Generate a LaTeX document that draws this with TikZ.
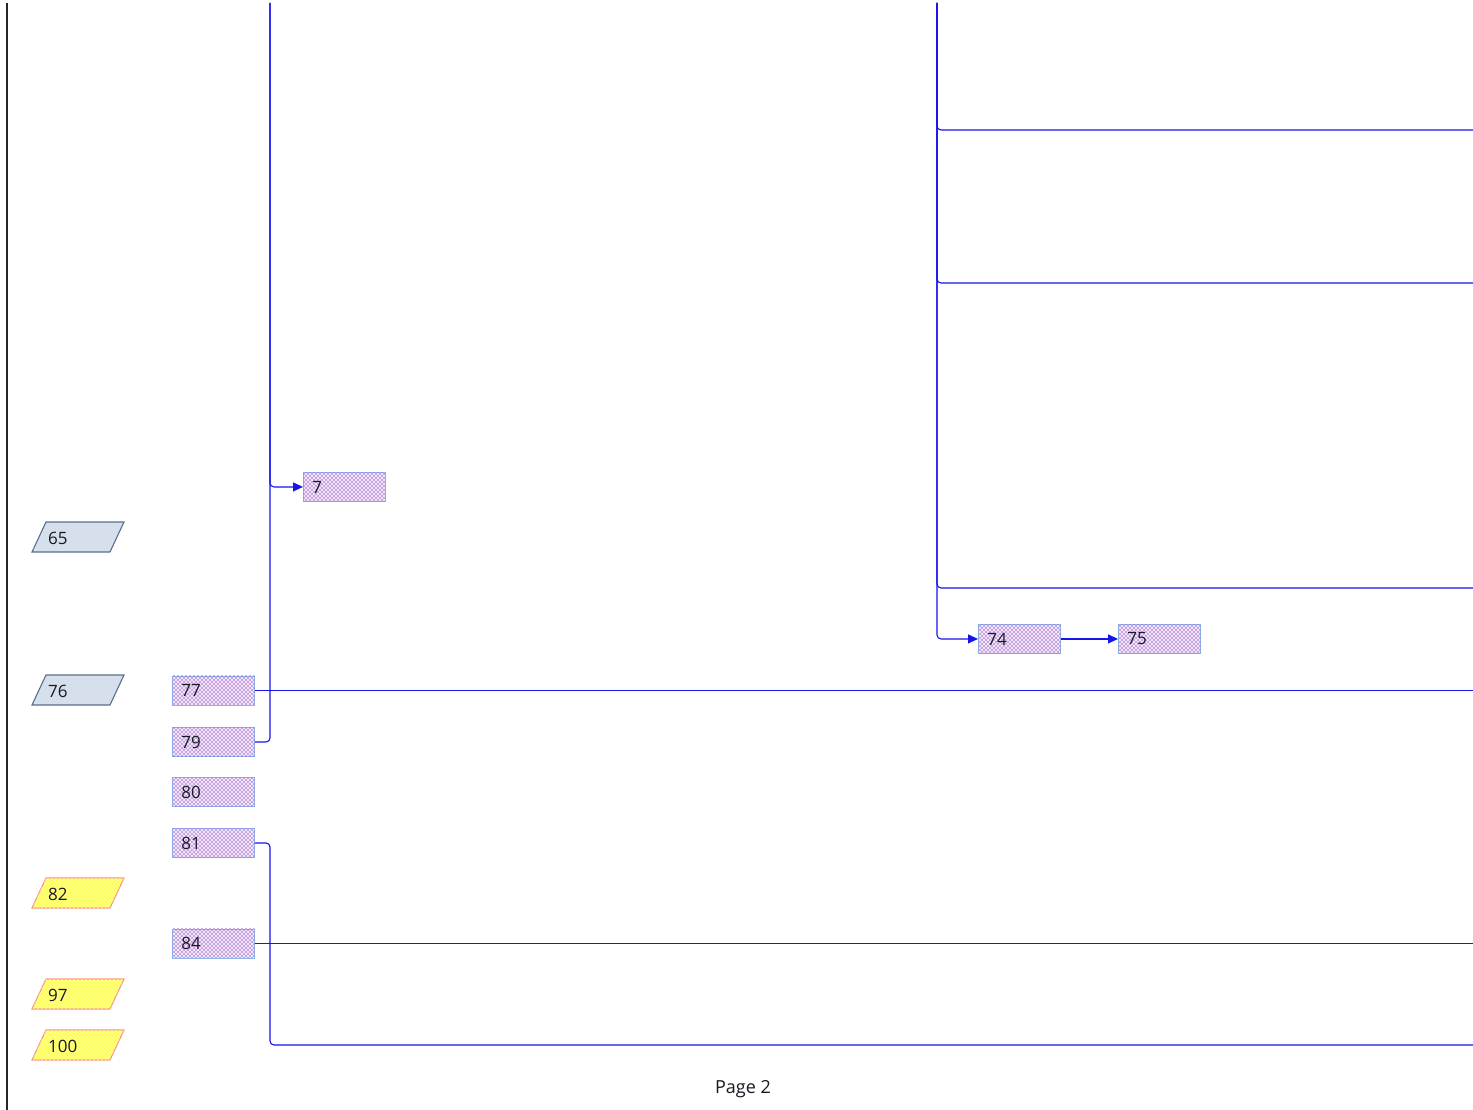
\documentclass[tikz,border=0pt]{standalone}
\usepackage{fontspec}
\setmainfont{Open Sans}
\usetikzlibrary{patterns,arrows.meta}
\definecolor{conn}{RGB}{20,20,235}
\definecolor{boxborder}{RGB}{140,180,235}
\definecolor{boxfill}{RGB}{240,230,248}
\definecolor{dotcol}{RGB}{160,100,205}
\definecolor{grayfill}{RGB}{214,223,236}
\definecolor{grayborder}{RGB}{90,110,140}
\definecolor{yelfill}{RGB}{255,255,90}
\definecolor{yelborder}{RGB}{245,150,140}
\definecolor{txt}{RGB}{25,25,35}
\pgfdeclarepatternformonly{mydots}{\pgfqpoint{-1pt}{-1pt}}{\pgfqpoint{5pt}{5pt}}{\pgfqpoint{4pt}{4pt}}{%
  \pgfpathcircle{\pgfqpoint{0pt}{0pt}}{0.95pt}
  \pgfpathcircle{\pgfqpoint{2pt}{2pt}}{0.95pt}
  \pgfusepath{fill}}
\tikzset{
  procbox/.style={rectangle, draw=boxborder, line width=0.9pt,
    fill=boxfill, postaction={pattern=mydots, pattern color=dotcol},
    minimum width=82pt, minimum height=29pt, text width=64pt, inner xsep=9pt,
    align=left, anchor=north west, font=\fontsize{17}{19}\selectfont, text=txt},
  conline/.style={draw=conn, line width=1.1pt, rounded corners=4pt},
  arr/.style={-{Triangle[length=10pt,width=9pt]}},
  paragray/.style={draw=grayborder, fill=grayfill, line width=1.1pt},
  parayel/.style={draw=yelborder, fill=yelfill, line width=1.1pt,
    postaction={pattern=mydots, pattern color=yellow!30!white}},
  paratext/.style={anchor=west, font=\fontsize{17}{19}\selectfont, text=txt, inner sep=0pt}
}
\newcommand\mypara[4]{% style, top y, name, label
  \path[#1] (46,#2) -- (124,#2) -- (110,#2+30) -- (32,#2+30) -- cycle;
  \node[paratext] (#3) at (48,#2+16) {#4};
}
\begin{document}
\begin{tikzpicture}[x=1pt,y=-1pt]
\useasboundingbox (0,0) rectangle (1473,1110);
% left border line
\draw[line width=1.2pt, black!85] (7,3) -- (7,1110);

% parallelograms
\mypara{paragray}{522}{p65}{65}
\mypara{paragray}{675}{p76}{76}
\mypara{parayel}{878}{p82}{82}
\mypara{parayel}{979}{p97}{97}
\mypara{parayel}{1030}{p100}{100}

% boxes
\node[procbox] (n7) at (303,472) {7};
\node[procbox] (n77) at (172,675.5) {77};
\node[procbox] (n79) at (172,727) {79};
\node[procbox] (n80) at (172,777) {80};
\node[procbox] (n81) at (172,828) {81};
\node[procbox] (n84) at (172,928.5) {84};
\node[procbox] (n74) at (978,624) {74};
\node[procbox] (n75) at (1118,624) {75};

% coordinates
\coordinate (tL) at (270,3);
\coordinate (tR) at (937,3);
\coordinate (e130) at (1473,130);
\coordinate (e283) at (1473,283);
\coordinate (e588) at (1473,588);
\coordinate (eR) at (1473,0);
\coordinate (kB) at (270,1045);
\coordinate (eB) at (1473,1045);

% left trunk
\draw[conline] (n79.east) -| (tL);
\draw[conline, arr] (tL) |- (n7.west);
\draw[conline] (n77.east) -- (eR |- n77.east);
\draw[conline] (n81.east) -| (kB) -- (eB);
\draw[conline] (n84.east) -- (eR |- n84.east);

% right trunk
\draw[conline] (tR) |- (e130);
\draw[conline] (tR) |- (e283);
\draw[conline] (tR) |- (e588);
\draw[conline, arr] (tR) |- (n74.west);
\draw[conline, arr] (n74.east) -- (n75.west);

% page label
\node[font=\fontsize{18}{20}\selectfont, text=txt] (pg) at (743,1089) {Page 2};
\end{tikzpicture}
\end{document}
